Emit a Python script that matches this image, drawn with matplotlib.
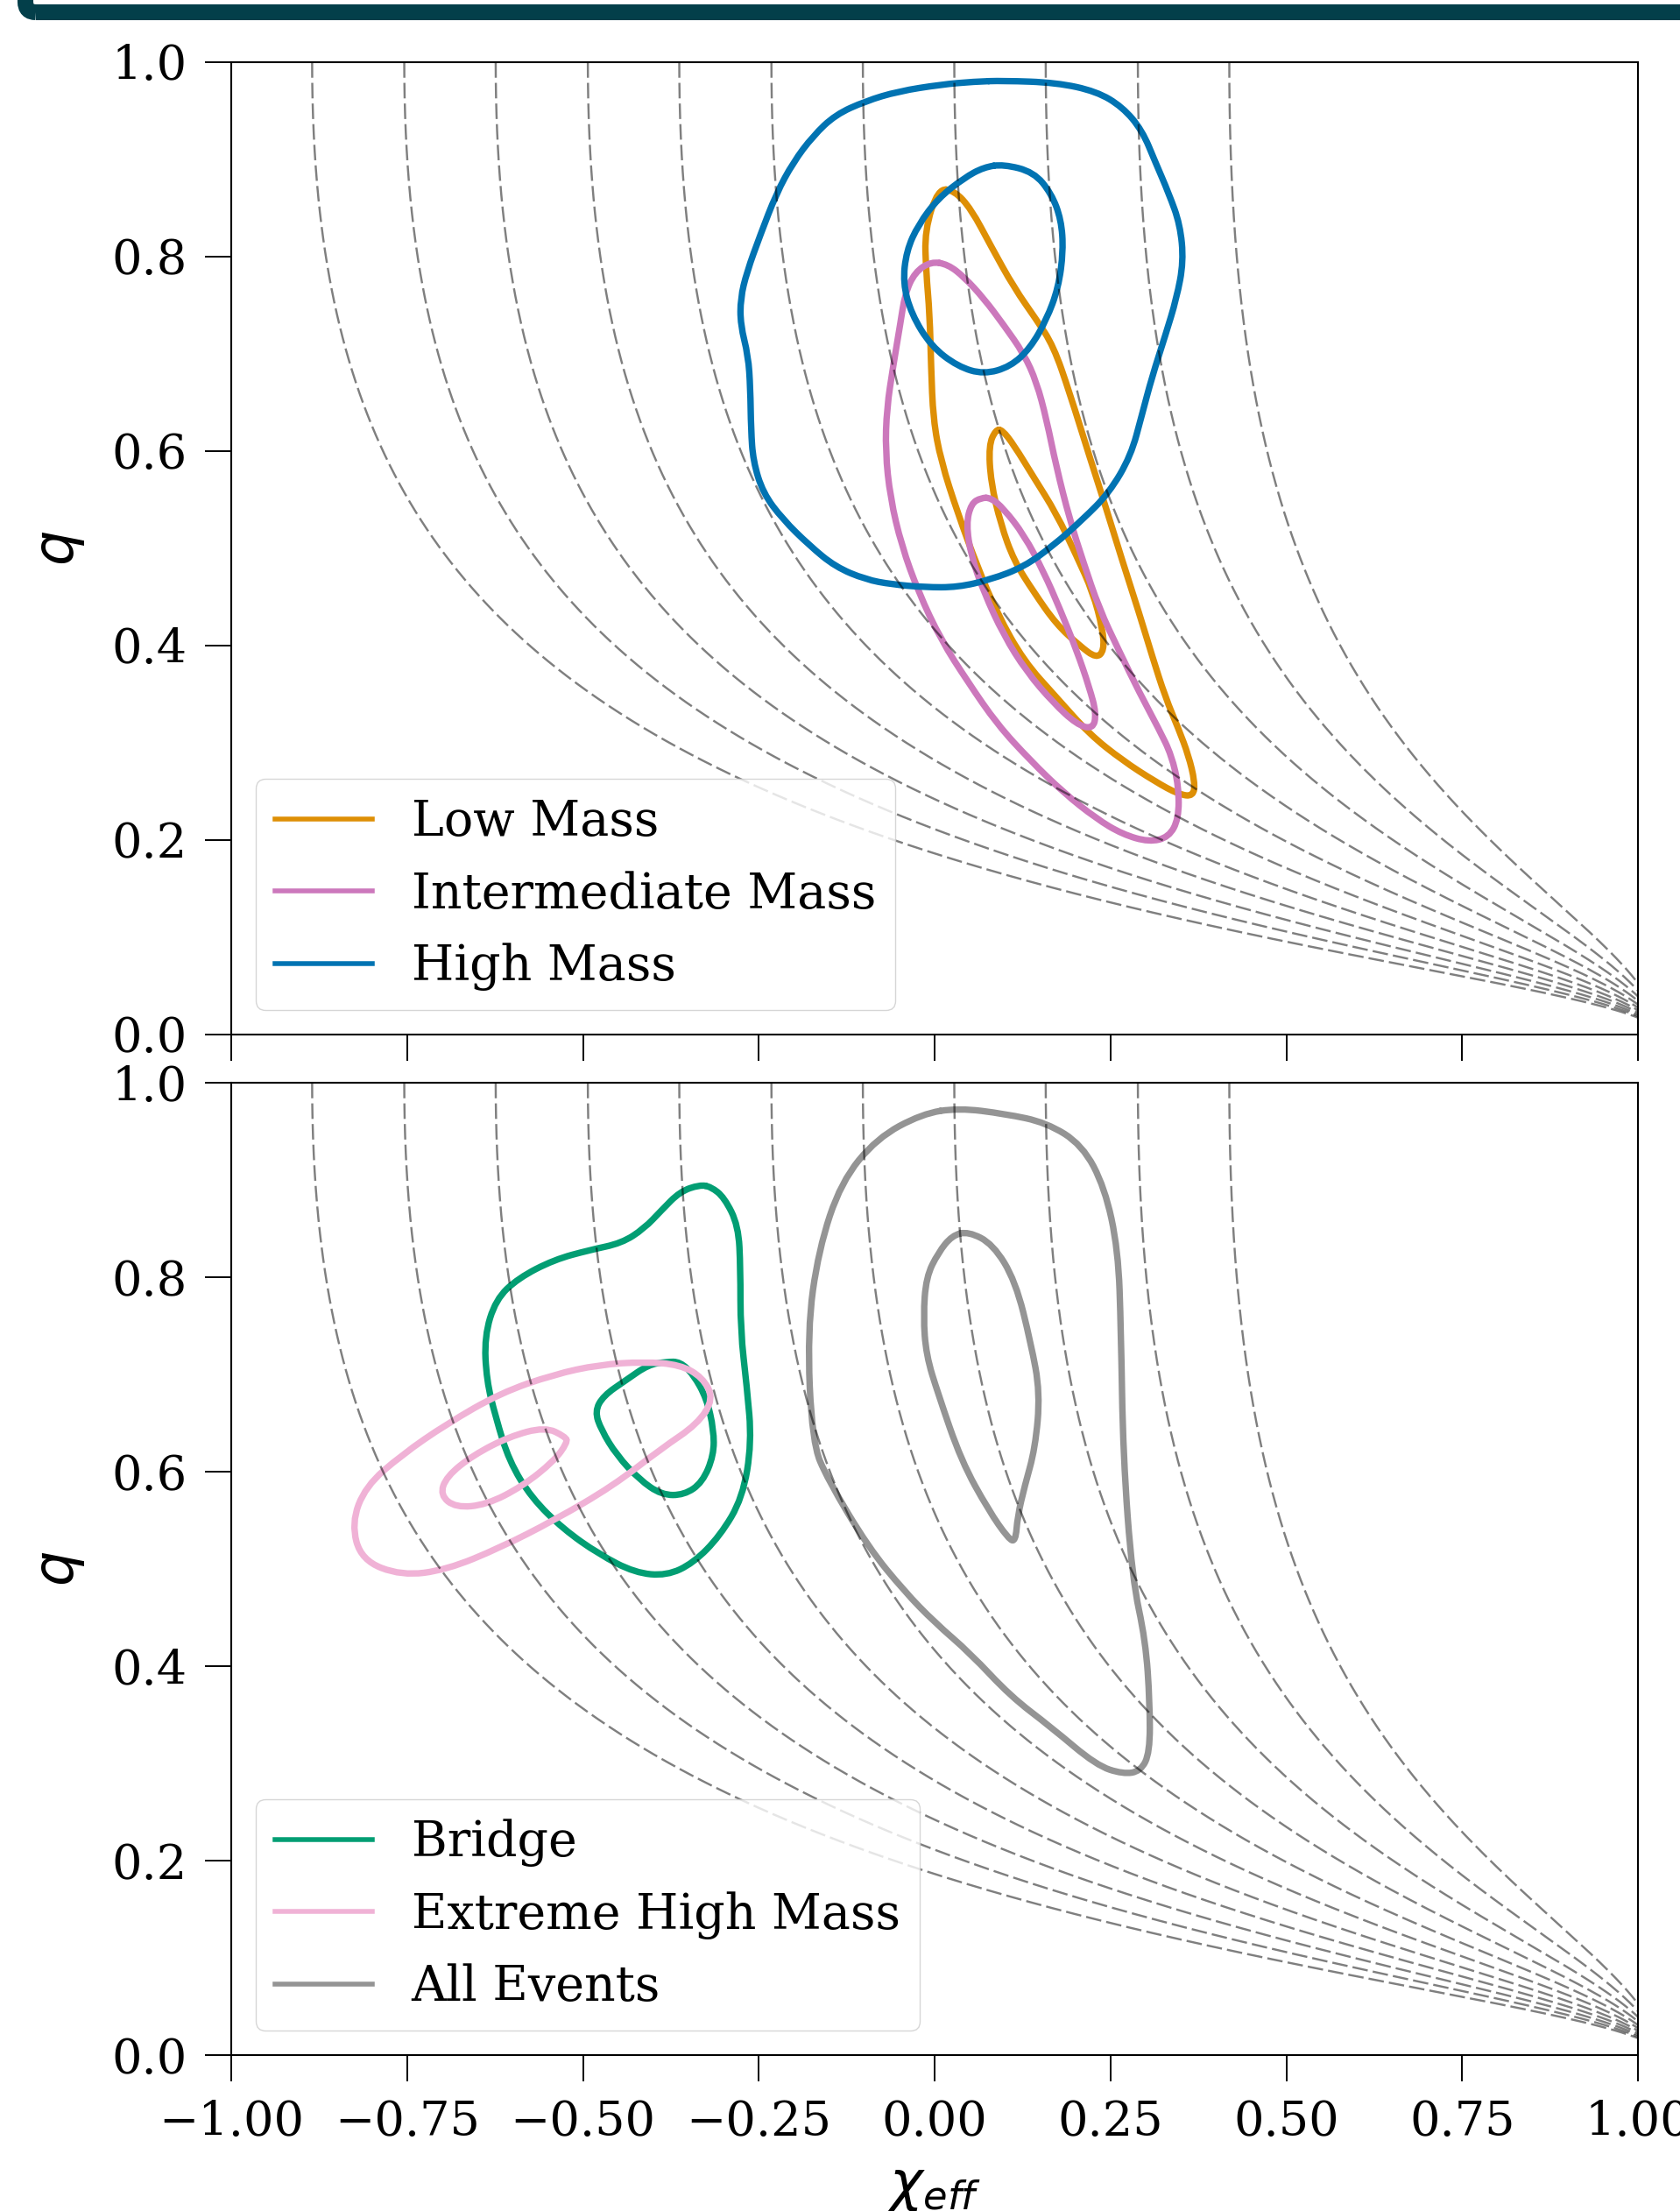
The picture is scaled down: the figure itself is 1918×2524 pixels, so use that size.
import numpy as np
import matplotlib
matplotlib.use('Agg')
import matplotlib.pyplot as plt
from matplotlib.path import Path
from matplotlib.patches import PathPatch, FancyBboxPatch
from matplotlib.lines import Line2D
from matplotlib.ticker import FuncFormatter
from matplotlib.transforms import IdentityTransform

plt.rc('font', family='serif', size=40)
plt.rc('mathtext', fontset='dejavusans')

# chi_eff where each dashed guide curve meets q = 1
spin_curve_starts = [-0.885, -0.754, -0.624, -0.493, -0.363, -0.232,
                     -0.102, 0.028, 0.158, 0.289, 0.419]

# contour outlines, (chi_eff, q)
low_outer = [(0.005, 0.870), (-0.014, 0.827), (-0.012, 0.784), (-0.007, 0.741), (-0.005, 0.687),
             (-0.002, 0.633), (0.009, 0.590), (0.033, 0.536), (0.061, 0.481), (0.089, 0.433),
             (0.127, 0.384), (0.173, 0.347), (0.220, 0.309), (0.267, 0.282), (0.314, 0.260),
             (0.347, 0.247), (0.368, 0.245), (0.370, 0.260), (0.361, 0.287), (0.347, 0.314),
             (0.328, 0.347), (0.309, 0.390), (0.291, 0.433), (0.267, 0.487), (0.244, 0.541),
             (0.220, 0.595), (0.192, 0.660), (0.169, 0.708), (0.145, 0.735), (0.113, 0.768),
             (0.080, 0.811), (0.052, 0.849), (0.028, 0.868)]
low_inner = [(0.087, 0.622), (0.077, 0.606), (0.080, 0.568), (0.094, 0.525), (0.113, 0.487),
             (0.141, 0.455), (0.173, 0.422), (0.206, 0.400), (0.230, 0.387), (0.241, 0.395),
             (0.239, 0.417), (0.225, 0.455), (0.202, 0.492), (0.173, 0.536), (0.141, 0.573),
             (0.113, 0.606), (0.096, 0.622)]
inter_outer = [(-0.005, 0.795), (-0.028, 0.784), (-0.042, 0.762), (-0.049, 0.730), (-0.059, 0.687),
               (-0.068, 0.644), (-0.070, 0.600), (-0.063, 0.552), (-0.047, 0.503), (-0.023, 0.455),
               (0.009, 0.406), (0.047, 0.363), (0.089, 0.319), (0.136, 0.282), (0.183, 0.249),
               (0.230, 0.222), (0.267, 0.206), (0.305, 0.198), (0.333, 0.203), (0.347, 0.222),
               (0.347, 0.255), (0.337, 0.287), (0.319, 0.314), (0.291, 0.352), (0.262, 0.395),
               (0.234, 0.438), (0.211, 0.487), (0.192, 0.530), (0.173, 0.584), (0.159, 0.633),
               (0.145, 0.671), (0.127, 0.700), (0.098, 0.730), (0.070, 0.757), (0.042, 0.779),
               (0.019, 0.792)]
inter_inner = [(0.066, 0.552), (0.052, 0.546), (0.045, 0.525), (0.052, 0.492), (0.070, 0.455),
               (0.098, 0.411), (0.131, 0.373), (0.169, 0.341), (0.202, 0.319), (0.225, 0.314),
               (0.230, 0.330), (0.220, 0.357), (0.202, 0.395), (0.178, 0.438), (0.155, 0.476),
               (0.127, 0.514), (0.098, 0.541), (0.080, 0.552)]
high_outer = [(0.098, 0.981), (0.173, 0.979), (0.230, 0.970), (0.267, 0.954), (0.295, 0.930),
              (0.314, 0.897), (0.333, 0.865), (0.349, 0.833), (0.354, 0.795), (0.344, 0.757),
              (0.328, 0.719), (0.309, 0.676), (0.295, 0.638), (0.279, 0.595), (0.248, 0.557),
              (0.211, 0.530), (0.169, 0.503), (0.127, 0.481), (0.080, 0.468), (0.033, 0.460),
              (-0.014, 0.460), (-0.061, 0.463), (-0.098, 0.468), (-0.141, 0.481), (-0.178, 0.503),
              (-0.216, 0.530), (-0.244, 0.557), (-0.258, 0.590), (-0.261, 0.622), (-0.262, 0.665),
              (-0.265, 0.698), (-0.276, 0.730), (-0.276, 0.757), (-0.267, 0.784), (-0.248, 0.822),
              (-0.225, 0.865), (-0.201, 0.897), (-0.173, 0.924), (-0.141, 0.946), (-0.098, 0.960),
              (-0.052, 0.970), (0.009, 0.977), (0.056, 0.980)]
high_inner = [(0.098, 0.895), (0.141, 0.887), (0.166, 0.865), (0.180, 0.838), (0.183, 0.806),
              (0.176, 0.768), (0.159, 0.735), (0.136, 0.706), (0.108, 0.687), (0.070, 0.679),
              (0.033, 0.687), (-0.005, 0.708), (-0.033, 0.741), (-0.045, 0.773), (-0.040, 0.806),
              (-0.023, 0.833), (0.005, 0.860), (0.042, 0.881), (0.070, 0.892)]
bridge_outer = [(-0.334, 0.895), (-0.362, 0.888), (-0.388, 0.869), (-0.413, 0.850), (-0.445, 0.835),
                (-0.490, 0.828), (-0.541, 0.818), (-0.592, 0.799), (-0.624, 0.777), (-0.640, 0.739),
                (-0.637, 0.694), (-0.624, 0.656), (-0.605, 0.611), (-0.573, 0.573), (-0.528, 0.541),
                (-0.477, 0.515), (-0.426, 0.496), (-0.381, 0.493), (-0.343, 0.506), (-0.305, 0.534),
                (-0.273, 0.573), (-0.260, 0.630), (-0.267, 0.688), (-0.276, 0.745), (-0.276, 0.809),
                (-0.279, 0.853), (-0.299, 0.882), (-0.318, 0.893)]
bridge_inner = [(-0.381, 0.713), (-0.407, 0.710), (-0.439, 0.694), (-0.471, 0.678), (-0.483, 0.662),
                (-0.474, 0.643), (-0.452, 0.617), (-0.420, 0.592), (-0.388, 0.576), (-0.356, 0.576),
                (-0.330, 0.589), (-0.314, 0.617), (-0.314, 0.643), (-0.324, 0.675), (-0.343, 0.700),
                (-0.362, 0.713)]
extreme_outer = [(-0.314, 0.675), (-0.330, 0.697), (-0.362, 0.710), (-0.413, 0.713), (-0.477, 0.710),
                 (-0.541, 0.700), (-0.617, 0.681), (-0.694, 0.649), (-0.758, 0.617), (-0.809, 0.585),
                 (-0.829, 0.547), (-0.815, 0.509), (-0.758, 0.493), (-0.694, 0.499), (-0.617, 0.522),
                 (-0.541, 0.550), (-0.458, 0.585), (-0.388, 0.624), (-0.337, 0.649)]
extreme_inner = [(-0.525, 0.636), (-0.554, 0.646), (-0.605, 0.636), (-0.656, 0.617), (-0.694, 0.595),
                 (-0.703, 0.576), (-0.681, 0.563), (-0.637, 0.566), (-0.586, 0.585), (-0.541, 0.611),
                 (-0.522, 0.630)]
all_outer = [(0.034, 0.974), (0.100, 0.968), (0.159, 0.959), (0.210, 0.936), (0.242, 0.892),
             (0.261, 0.828), (0.265, 0.745), (0.268, 0.617), (0.281, 0.490), (0.300, 0.426),
             (0.306, 0.362), (0.306, 0.311), (0.293, 0.292), (0.268, 0.289), (0.230, 0.298),
             (0.166, 0.337), (0.108, 0.369), (0.051, 0.413), (0.000, 0.445), (-0.043, 0.477),
             (-0.094, 0.522), (-0.152, 0.592), (-0.174, 0.630), (-0.181, 0.745), (-0.165, 0.828),
             (-0.133, 0.898), (-0.082, 0.943), (-0.018, 0.968)]
all_inner = [(0.048, 0.847), (0.083, 0.834), (0.115, 0.796), (0.137, 0.732), (0.150, 0.681),
             (0.143, 0.624), (0.128, 0.585), (0.118, 0.554), (0.115, 0.528), (0.105, 0.531),
             (0.077, 0.560), (0.038, 0.611), (0.005, 0.680), (-0.012, 0.720), (-0.016, 0.760),
             (-0.012, 0.800), (0.005, 0.825), (0.025, 0.843)]

top_groups = [('Low Mass', '#DE8F05', [low_outer, low_inner]),
              ('Intermediate Mass', '#CC78BC', [inter_outer, inter_inner]),
              ('High Mass', '#0173B2', [high_outer, high_inner])]
bottom_groups = [('Bridge', '#029E73', [bridge_outer, bridge_inner]),
                 ('Extreme High Mass', '#F0B2D6', [extreme_outer, extreme_inner]),
                 ('All Events', '#949494', [all_outer, all_inner])]

x_ticks = [-1.0, -0.75, -0.5, -0.25, 0.0, 0.25, 0.5, 0.75, 1.0]
y_ticks = [0.0, 0.2, 0.4, 0.6, 0.8, 1.0]

LW = 5.3


def _loop_path(pts):
    # closed quadratic-bezier path through the midpoints of the outline
    p = np.asarray(pts, dtype=float)
    mids = (p + np.roll(p, -1, axis=0)) / 2
    verts = [mids[-1]]
    codes = [Path.MOVETO]
    for i in range(len(p)):
        verts += [p[i], mids[i]]
        codes += [Path.CURVE3, Path.CURVE3]
    return Path(verts, codes)


def _guide_q(x, x0):
    h = lambda v: 0.385 * v - 0.476 * np.log(1.03 - v)
    four_eta = np.exp(h(x0) - h(x))
    eta = four_eta / 4
    return (1 - 2 * eta - np.sqrt(np.clip(1 - four_eta, 0, None))) / (2 * eta)


def _plot_panel(ax, groups):
    for label, color, loops in groups:
        for pts in loops:
            ax.add_patch(PathPatch(_loop_path(pts), fill=False, edgecolor=color, lw=LW,
                                   joinstyle='round', capstyle='round', zorder=2))
    t = np.linspace(0, 1, 800)
    for x0 in spin_curve_starts:
        x = x0 + (1.0 - x0) * t ** 2
        ax.plot(x, _guide_q(x, x0), color='k', alpha=0.5, lw=1.75,
                ls=(0, (7.3, 2.4)), zorder=3)
    handles = [Line2D([0], [0], color=c, lw=LW * 0.75, label=l) for l, c, _ in groups]
    ax.legend(handles=handles, loc='lower left', fontsize=40)
    ax.set_xlim(-1, 1)
    ax.set_ylim(0, 1)
    ax.set_xticks(x_ticks)
    ax.set_yticks(y_ticks)
    ax.xaxis.set_major_formatter(FuncFormatter(lambda v, p: f'{v:.2f}'.replace('-', '\u2212')))
    ax.yaxis.set_major_formatter(FuncFormatter(lambda v, p: f'{v:.1f}'))
    ax.tick_params(direction='out', length=21.6, width=1.4, pad=15, labelsize=39)
    for s in ax.spines.values():
        s.set_linewidth(1.5)
    ax.set_ylabel('$q$', fontsize=46, labelpad=20)


fig = plt.figure(figsize=(19.18, 25.24), dpi=100)
W, H = 1918.0, 2524.0
ax_top = fig.add_axes([264 / W, 1 - 1181 / H, 1606 / W, 1110 / H])
ax_bot = fig.add_axes([264 / W, 1 - 2346 / H, 1606 / W, 1110 / H])

_plot_panel(ax_top, top_groups)
_plot_panel(ax_bot, bottom_groups)
ax_top.tick_params(labelbottom=False)
ax_bot.set_xlabel('$\\chi_{eff}$', fontsize=46, labelpad=12)

# bottom edge of the slide box above the figure
fig.add_artist(FancyBboxPatch((29, H - 14), 4000, 600,
                              boxstyle='round,pad=0,rounding_size=12',
                              transform=IdentityTransform(), facecolor='none',
                              edgecolor='#033f4a', lw=13, clip_on=False))

fig.savefig('out.png', dpi=100)
